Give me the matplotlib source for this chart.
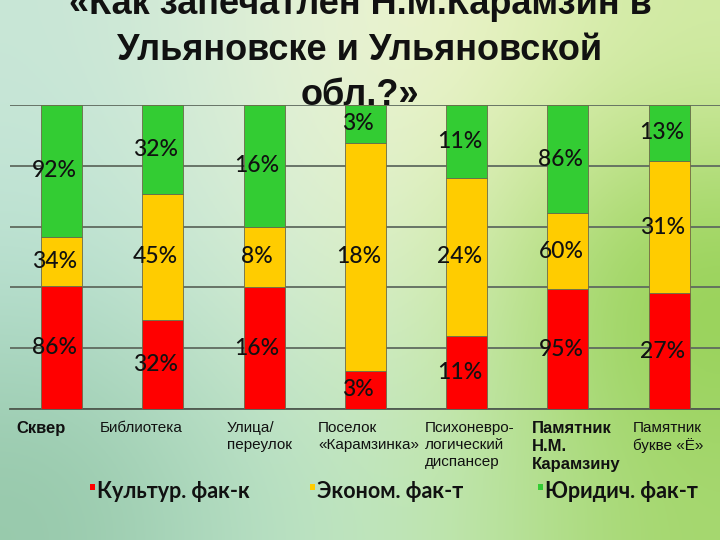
import numpy as np
import matplotlib.pyplot as plt
from matplotlib.patches import Rectangle

plt.rcParams['font.family'] = ['Liberation Sans', 'DejaVu Sans']

# === данные ===
categories = ['Сквер', 'Библиотека', 'Улица/\nпереулок', 'Поселок\n«Карамзинка»',
              'Психоневро-\nлогический\nдиспансер', 'Памятник\nН.М.\nКарамзину',
              'Памятник\nбукве «Ё»']
bold_cats = [True, False, False, False, False, True, False]
series_names = ['Культур. фак-к', 'Эконом. фак-т', 'Юридич. фак-т']
cultur = [86, 32, 16, 3, 11, 95, 27]
econom = [34, 45, 8, 18, 24, 60, 31]
jurid = [92, 32, 16, 3, 11, 86, 13]
colors = ['#FF0000', '#FFCC00', '#33CC33']

title = '«Как запечатлен Н.М.Карамзин в\nУльяновске и Ульяновской\nобл.?»'

# === фон (градиент) ===
bg_grid = np.array([
    [(200, 230, 215), (225, 240, 215), (240, 245, 205), (210, 235, 165)],
    [(185, 225, 210), (215, 238, 215), (220, 240, 185), (140, 205, 70)],
    [(150, 200, 170), (185, 225, 200), (195, 232, 180), (165, 215, 110)],
]) / 255.0

fig = plt.figure(figsize=(7.2, 5.4), dpi=100)
bg = fig.add_axes([0, 0, 1, 1])
bg.imshow(bg_grid, aspect='auto', interpolation='bicubic', extent=[0, 1, 0, 1])
bg.axis('off')

ax = fig.add_axes([0.0139, 0.2426, 0.986, 0.563])
ax.patch.set_alpha(0)

# === 100% stacked ===
data = np.array([cultur, econom, jurid], dtype=float)
shares = data / data.sum(axis=0) * 100
x = np.arange(len(categories))
bottom = np.zeros(len(categories))
for vals, sh, c in zip(data, shares, colors):
    ax.bar(x, sh, width=0.405, bottom=bottom, color=c, edgecolor='#6a6a4a',
           linewidth=0.6, zorder=3)
    for xi, v, s, b in zip(x, vals, sh, bottom):
        ax.text(xi - 0.07, b + s / 2, f'{int(v)}%', ha='center', va='center',
                fontsize=16.5, family=['Lato', 'DejaVu Sans'], fontweight='medium',
                color='#111111', zorder=4)
    bottom += sh

ax.set_xlim(-0.508, 6.50)
ax.set_ylim(0, 100)
ax.set_yticks(range(0, 101, 20))
ax.yaxis.grid(True, color='#5f6b5f', linewidth=1.3)
ax.set_axisbelow(True)
ax.set_xticks([])
ax.tick_params(left=False, labelleft=False)
for side in ['left', 'right', 'top']:
    ax.spines[side].set_visible(False)
ax.spines['bottom'].set_color('#4f5b4f')
ax.spines['bottom'].set_linewidth(1.3)

# подписи категорий
label_dx = [-0.2, -0.21, -0.05, 0.03, 0.03, 0.08, -0.01]
for xi, name, b, dx in zip(x, categories, bold_cats, label_dx):
    ax.text(xi + dx, -0.04, name, transform=ax.get_xaxis_transform(),
            ha='center', va='top', multialignment='left', linespacing=1.25,
            fontsize=12 if b else 11, fontweight='bold' if b else 'normal',
            family=['Liberation Sans Narrow', 'Liberation Sans'], color='#111111')

# легенда вручную
leg_x = [97, 317, 545]
for lx, name, c in zip(leg_x, series_names, colors):
    fig.text(lx / 720, 1 - 491 / 540, name, fontsize=15.5, ha='left', va='center',
             family=['Lato', 'DejaVu Sans'], fontweight='bold', color='#111111')
    fig.patches.append(Rectangle(((lx - 7) / 720, 1 - 490 / 540), 5 / 720, 6 / 540,
                                 transform=fig.transFigure, facecolor=c,
                                 edgecolor='none'))

# заголовок
fig.text(0.5, 1 - 50 / 540, title, ha='center', va='center', fontsize=26,
         fontweight='bold', linespacing=1.38, color='#111111')

plt.savefig('out.png', dpi=100)
